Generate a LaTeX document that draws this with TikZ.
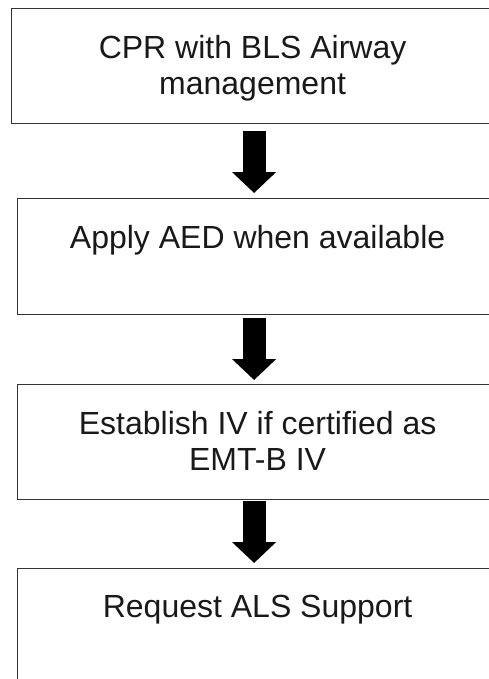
\documentclass[tikz,border=0pt]{standalone}
\usepackage{fontspec}
\setmainfont{Liberation Sans}
\usetikzlibrary{positioning,arrows.meta,calc}

\tikzset{
  stage/.style={draw=black!80, line width=1.2pt, minimum width=480pt, minimum height=115pt, anchor=north west, inner sep=0pt},
  stagetext/.style={anchor=north, yshift=-27pt, inner sep=0pt, align=center, text=black!90, font=\fontsize{32}{36}\selectfont},
  flow/.style={line width=23pt, -{Triangle[width=43pt,length=21pt]}}
}

\begin{document}
\begin{tikzpicture}[x=1pt,y=-1pt]
  \useasboundingbox (0,0) rectangle (488,679);
  % the four steps
  \node[stage, minimum width=482pt, label={[stagetext]north:CPR with BLS Airway\\management}] (cpr) at (11,8) {};
  \node[stage, minimum height=116pt, label={[stagetext]north:Apply AED when available}] (aed) at (17,198) {};
  \node[stage, label={[stagetext]north:Establish IV if certified as\\EMT-B IV}] (iv) at (17,384) {};
  \node[stage, label={[stagetext]north:Request ALS Support}] (als) at (17,568) {};
  % arrows between them
  \draw[flow] ([xshift=1.5pt,yshift=-7pt]cpr.south) -- ([xshift=-3.5pt,yshift=5pt]aed.north);
  \draw[flow] ([xshift=-3.5pt,yshift=-3pt]aed.south) -- ([xshift=-3.5pt,yshift=4pt]iv.north);
  \draw[flow] ([xshift=-3.5pt,yshift=-1pt]iv.south) -- ([xshift=-3.5pt,yshift=5pt]als.north);
\end{tikzpicture}
\end{document}
